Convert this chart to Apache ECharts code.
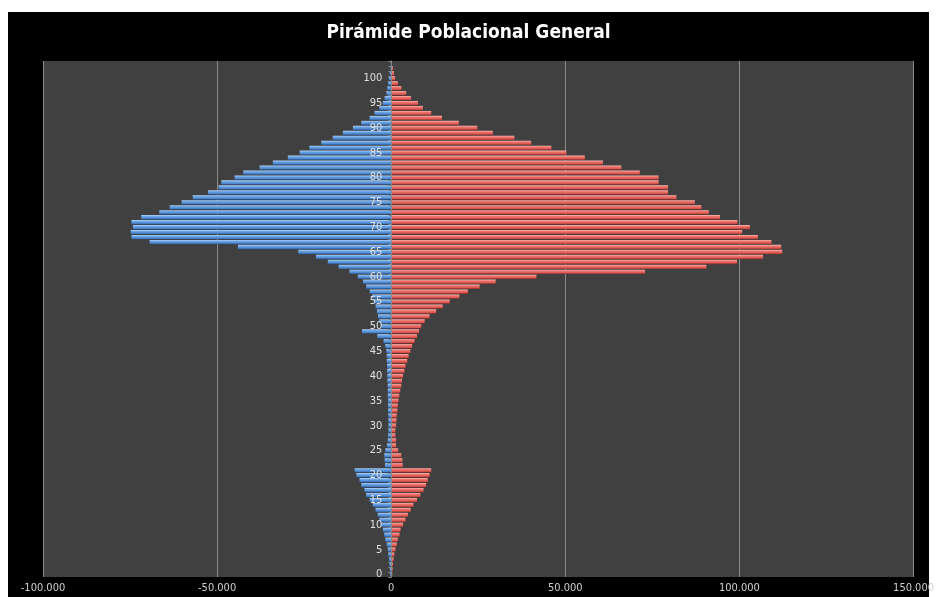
<!DOCTYPE html>
<html>
<head>
<meta charset="utf-8">
<script src="https://cdn.jsdelivr.net/npm/echarts@6/dist/echarts.min.js"></script>
<style>
html,body{margin:0;padding:0;background:#ffffff;}
#chart{width:937px;height:597px;}
</style>
</head>
<body>
<div id="chart"></div>
<script>
// Edades 0..103
var ages = [];
for (var i = 0; i <= 103; i++) ages.push(String(i));

var hombres = [
  -300, -400, -500, -600, -800, -1000, -1300, -1700, -2000, -2400,
  -2900, -3400, -3900, -4500, -5300, -6200, -7200, -7700, -8600, -9100,
  -10000, -10500, -1800, -1900, -2000, -1700, -1200, -1000, -900, -800,
  -800, -800, -800, -900, -900, -900, -1000, -1000, -1000, -1100,
  -1100, -1200, -1200, -1300, -1300, -1400, -1700, -2200, -4000, -8400,
  -2900, -3400, -3800, -4100, -4500, -5000, -5500, -6200, -7200, -8100,
  -9600, -12000, -15100, -18200, -21600, -26700, -44000, -69400, -74600, -74800,
  -74200, -74600, -71800, -66600, -63600, -60200, -57000, -52600, -49600, -48800,
  -45000, -42500, -37800, -34000, -29700, -26300, -23500, -20100, -16800, -13900,
  -11000, -8600, -6200, -4800, -3400, -2400, -1900, -1400, -1100, -900,
  -700, -400, -200, -100
];

var mujeres = [
  300, 400, 500, 700, 900, 1200, 1600, 1900, 2400, 2700,
  3400, 4100, 4800, 5600, 6400, 7400, 8400, 9300, 10000, 10500,
  11000, 11500, 3300, 3200, 2900, 2000, 1400, 1400, 1200, 1200,
  1400, 1500, 1600, 1800, 1900, 2100, 2300, 2600, 2900, 3100,
  3400, 3800, 4100, 4600, 5000, 5500, 6000, 6700, 7400, 8000,
  8600, 9600, 11000, 12900, 14800, 16800, 19600, 22000, 25400, 30000,
  41700, 72900, 90500, 99300, 106800, 112300, 112000, 109200, 105300, 100800,
  103000, 99400, 94400, 91200, 89100, 87200, 81900, 79500, 79500, 76800,
  76800, 71400, 66100, 60800, 55600, 50300, 46000, 40200, 35400, 29200,
  24700, 19400, 14600, 11500, 9100, 7700, 5700, 4300, 2900, 1900,
  1100, 800, 500, 200
];

var titulo = 'Pirámide Poblacional General';

var X_MIN = -100000, X_MAX = 150000, X_STEP = 50000;

function fmt(v) {
  var neg = v < 0;
  var s = String(Math.abs(v)).replace(/\B(?=(\d{3})+(?!\d))/g, '.');
  return (neg ? '-' : '') + s;
}

var W = 937, GL = 43, GR = 23;
var gridW = W - GL - GR;
var zeroOffset = -gridW * (0 - X_MIN) / (X_MAX - X_MIN);

var chart = echarts.init(document.getElementById('chart'), null, {renderer: 'canvas'});

var blueGrad = new echarts.graphic.LinearGradient(0, 0, 0, 1, [
  {offset: 0, color: '#b3d4f7'},
  {offset: 0.3, color: '#6fa6e4'},
  {offset: 0.75, color: '#4a84cc'},
  {offset: 1, color: '#274f86'}
]);
var redGrad = new echarts.graphic.LinearGradient(0, 0, 0, 1, [
  {offset: 0, color: '#fab8b3'},
  {offset: 0.3, color: '#ee7770'},
  {offset: 0.75, color: '#d8544e'},
  {offset: 1, color: '#842724'}
]);

var narrow = '"Liberation Sans Narrow", "DejaVu Sans Condensed", "Open Sans", sans-serif';

chart.setOption({
  animation: false,
  backgroundColor: '#ffffff',
  graphic: [{
    type: 'rect',
    z: -10,
    shape: {x: 8, y: 12, width: 921, height: 585},
    style: {fill: '#000000'}
  }],
  title: {
    text: titulo,
    left: 'center',
    top: 19,
    textStyle: {
      color: '#ffffff',
      fontFamily: narrow,
      fontWeight: 'bold',
      fontSize: 19
    }
  },
  grid: {
    left: GL,
    right: GR,
    top: 61,
    bottom: 20,
    show: true,
    backgroundColor: '#404040',
    borderWidth: 0,
    containLabel: false
  },
  xAxis: {
    type: 'value',
    min: X_MIN,
    max: X_MAX,
    interval: X_STEP,
    axisLine: {show: false},
    axisTick: {show: false},
    splitLine: {show: true, lineStyle: {color: '#8a8a8a', width: 1}},
    axisLabel: {
      color: '#d0d0d0',
      fontFamily: narrow,
      fontSize: 11,
      margin: 6,
      formatter: function (v) { return fmt(v); }
    }
  },
  yAxis: {
    type: 'category',
    data: ages,
    position: 'left',
    offset: zeroOffset,
    z: 10,
    axisLine: {show: true, onZero: false, lineStyle: {color: '#8a8a8a', width: 1}},
    axisTick: {show: true, interval: 0, length: 3, inside: false, lineStyle: {color: '#8a8a8a'}},
    splitLine: {show: false},
    axisLabel: {
      interval: 4,
      color: '#e0e0e0',
      fontFamily: narrow,
      fontSize: 11,
      margin: 9
    }
  },
  series: [
    {
      name: 'Hombres',
      type: 'bar',
      data: hombres,
      barGap: '-100%',
      barCategoryGap: '12%',
      itemStyle: {color: blueGrad}
    },
    {
      name: 'Mujeres',
      type: 'bar',
      data: mujeres,
      barGap: '-100%',
      barCategoryGap: '12%',
      itemStyle: {color: redGrad}
    }
  ]
});
</script>
</body>
</html>
